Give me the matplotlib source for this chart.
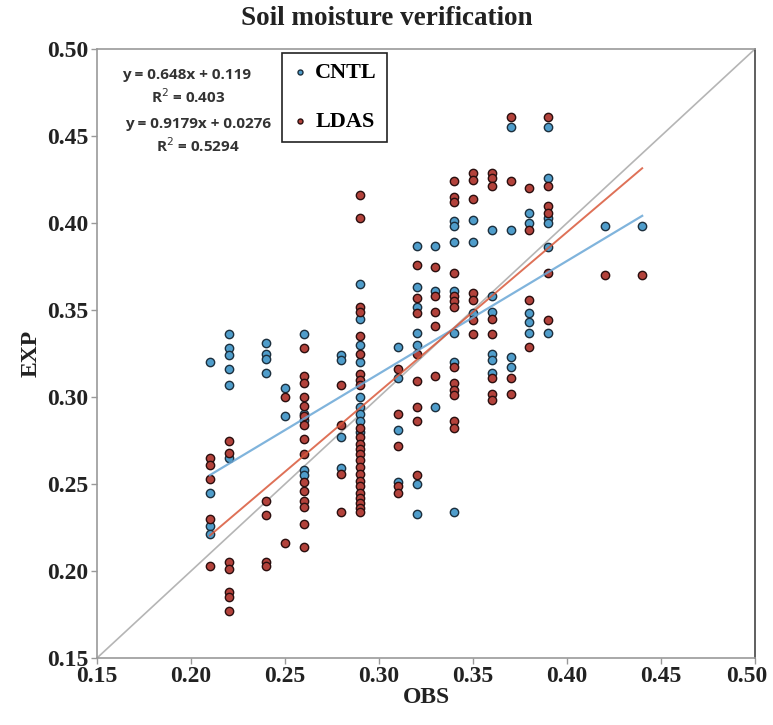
import matplotlib
matplotlib.use("Agg")
import matplotlib.pyplot as plt
import matplotlib.transforms as mtransforms
import numpy as np

# ---- data ----
cntl_x = ([0.21]*4 + [0.22]*6 + [0.24]*4 + [0.25]*2 + [0.26]*5 + [0.28]*4 +
          [0.29]*9 + [0.31]*4 + [0.32]*7 + [0.33]*3 + [0.34]*7 + [0.35]*3 +
          [0.36]*6 + [0.37]*4 + [0.38]*5 + [0.39]*6 + [0.42] + [0.44])
cntl_y = [0.320, 0.245, 0.226, 0.221,
          0.336, 0.328, 0.324, 0.316, 0.307, 0.265,
          0.331, 0.325, 0.322, 0.314,
          0.305, 0.289,
          0.336, 0.290, 0.287, 0.258, 0.255,
          0.324, 0.321, 0.277, 0.259,
          0.365, 0.345, 0.330, 0.320, 0.300, 0.294, 0.290, 0.286, 0.280,
          0.329, 0.311, 0.281, 0.251,
          0.387, 0.363, 0.352, 0.337, 0.330, 0.250, 0.233,
          0.387, 0.361, 0.294,
          0.401, 0.398, 0.389, 0.361, 0.337, 0.320, 0.234,
          0.402, 0.389, 0.348,
          0.396, 0.358, 0.349, 0.325, 0.321, 0.314,
          0.455, 0.396, 0.323, 0.317,
          0.406, 0.400, 0.348, 0.343, 0.337,
          0.455, 0.426, 0.403, 0.400, 0.386, 0.337,
          0.398,
          0.398]

ldas_x = ([0.21]*5 + [0.22]*7 + [0.24]*4 + [0.25]*2 + [0.26]*15 + [0.28]*4 +
          [0.29]*24 + [0.31]*5 + [0.32]*8 + [0.33]*5 + [0.34]*13 + [0.35]*7 +
          [0.36]*8 + [0.37]*4 + [0.38]*4 + [0.39]*6 + [0.42] + [0.44])
ldas_y = [0.265, 0.261, 0.253, 0.230, 0.203,
          0.275, 0.268, 0.205, 0.201, 0.188, 0.185, 0.177,
          0.240, 0.232, 0.205, 0.203,
          0.300, 0.216,
          0.328, 0.312, 0.308, 0.300, 0.295, 0.289, 0.284, 0.276, 0.267, 0.251,
          0.246, 0.240, 0.237, 0.227, 0.214,
          0.307, 0.284, 0.256, 0.234,
          0.416, 0.403, 0.352, 0.349, 0.335, 0.325, 0.313, 0.310, 0.307, 0.282,
          0.277, 0.273, 0.270, 0.267, 0.264, 0.260, 0.256, 0.252, 0.249, 0.245,
          0.242, 0.239, 0.236, 0.234,
          0.316, 0.290, 0.272, 0.249, 0.245,
          0.376, 0.357, 0.348, 0.325, 0.309, 0.294, 0.286, 0.255,
          0.375, 0.358, 0.349, 0.341, 0.312,
          0.424, 0.415, 0.412, 0.371, 0.358, 0.355, 0.352, 0.317, 0.308, 0.304,
          0.301, 0.286, 0.282,
          0.429, 0.425, 0.414, 0.360, 0.356, 0.344, 0.336,
          0.429, 0.426, 0.421, 0.345, 0.336, 0.311, 0.302, 0.298,
          0.461, 0.424, 0.311, 0.302,
          0.420, 0.396, 0.356, 0.329,
          0.461, 0.421, 0.410, 0.406, 0.371, 0.344,
          0.370,
          0.370]

# regression coefficients printed on the chart
cntl_fit = (0.648, 0.119, 0.403)
ldas_fit = (0.9179, 0.0276, 0.5294)
ticks = [0.15, 0.20, 0.25, 0.30, 0.35, 0.40, 0.45, 0.50]

serif = "Liberation Serif"
c_blue = "#4f9dcb"
c_red = "#b3423b"

fig = plt.figure(figsize=(7.73, 7.25), dpi=100)
ax = fig.add_axes([0.1255, 0.0924, 0.8512, 0.84])

ax.plot([0.15, 0.50], [0.15, 0.50], color="#b5b5b5", lw=1.2, zorder=1)

ax.scatter(cntl_x, cntl_y, s=36, facecolor=c_blue, edgecolor="#1c2f3d",
           linewidth=1.0, zorder=3, label="CNTL")
ax.scatter(ldas_x, ldas_y, s=36, facecolor=c_red, edgecolor="#2a0f0f",
           linewidth=1.0, zorder=3, label="LDAS")

xs = np.array([min(cntl_x), max(cntl_x)])
ax.plot(xs, cntl_fit[0]*xs + cntl_fit[1], color="#6aa7d6", lw=1.6, alpha=0.85, zorder=4)
xs2 = np.array([min(ldas_x), max(ldas_x)])
ax.plot(xs2, ldas_fit[0]*xs2 + ldas_fit[1], color="#d9583a", lw=1.4, alpha=0.85, zorder=4)

ax.set_xlim(0.15, 0.50)
ax.set_ylim(0.15, 0.50)
ax.set_xticks(ticks)
ax.set_yticks(ticks)
ax.set_xticklabels([f"{t:.2f}" for t in ticks])
ax.set_yticklabels([f"{t:.2f}" for t in ticks])
for lab in ax.get_xticklabels() + ax.get_yticklabels():
    lab.set_fontfamily(serif)
    lab.set_fontweight("bold")
    lab.set_fontsize(17)
    lab.set_color("#222222")
ax.tick_params(length=4, width=1, color="#999999", pad=2)

# keep the last x tick label inside the figure
last = ax.get_xticklabels()[-1]
last.set_transform(last.get_transform() +
                   mtransforms.ScaledTranslation(-8/100, 0, fig.dpi_scale_trans))

for sp in ax.spines.values():
    sp.set_color("#999999")
    sp.set_linewidth(1.2)
ax.spines["right"].set_color("#444444")

ax.set_xlabel("OBS", fontfamily=serif, fontweight="bold", fontsize=17, labelpad=0, color="#222222")
ax.set_ylabel("EXP", fontfamily=serif, fontweight="bold", fontsize=17, labelpad=4, color="#222222")
fig.text(0.5, 0.975, "Soil moisture verification", ha="center", va="center",
         fontfamily=serif, fontweight="bold", fontsize=19.5, color="#222222")

eq_font = dict(fontfamily="Open Sans", fontweight="bold", fontsize=11, color="#333333",
               ha="center", va="center")
fig.text(187/773, 1-75/725, f"y = {cntl_fit[0]}x + {cntl_fit[1]}", **eq_font)
fig.text(188/773, 1-97/725, f"R$^2$ = {cntl_fit[2]}", **eq_font)
fig.text(198/773, 1-124/725, f"y = {ldas_fit[0]}x + {ldas_fit[1]}", **eq_font)
fig.text(198/773, 1-146/725, f"R$^2$ = {ldas_fit[2]}", **eq_font)

leg = ax.legend(loc="upper left", bbox_to_anchor=(0.281, 0.994), frameon=True,
                fancybox=False, edgecolor="#222222", framealpha=1,
                prop=dict(family=serif, weight="bold", size=16),
                markerscale=0.6, labelspacing=1.25, borderpad=0.45,
                handletextpad=0.35, handlelength=0.7, borderaxespad=0)
leg.get_frame().set_linewidth(1.2)

fig.savefig("out.png", dpi=100)
